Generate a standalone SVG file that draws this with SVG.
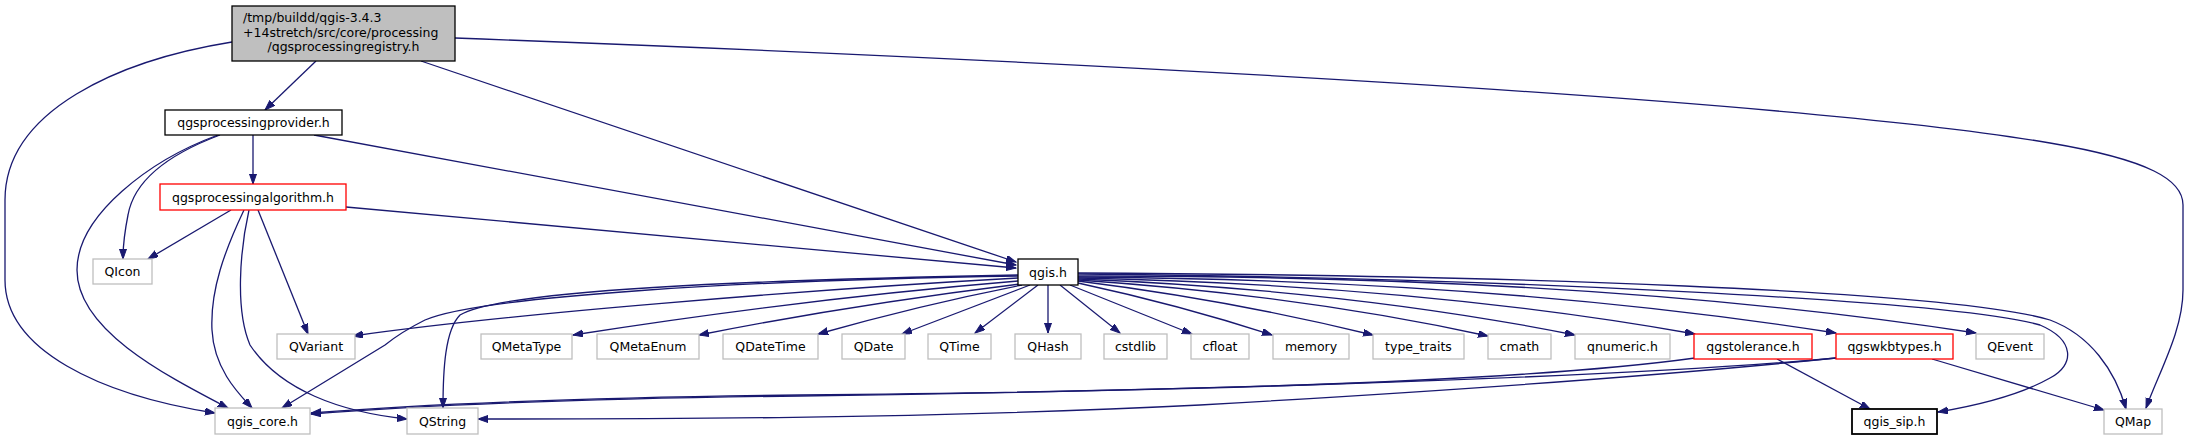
<svg xmlns="http://www.w3.org/2000/svg" width="2189" height="440" viewBox="0 0 2189 440">
<style>
text{font-family:"DejaVu Sans","Liberation Sans",sans-serif;font-size:12.5px;fill:#000;text-anchor:middle}
.n rect{fill:#fff;stroke-width:1.3}
.blk rect{stroke:#000}
.red rect{stroke:#ff0000}
.gry rect{stroke:#bfbfbf}
#edges path{fill:none;stroke:#191970;stroke-width:1.3;marker-end:url(#ah)}
</style>
<defs>
<marker id="ah" markerUnits="userSpaceOnUse" markerWidth="11" markerHeight="8" refX="10" refY="3.5" orient="auto">
<path d="M0,0 L10,3.5 L0,7 z" fill="#191970" stroke="#191970" stroke-width="1"/>
</marker>
</defs>
<rect width="2189" height="440" fill="#fff"/>
<g id="edges">
<path d="M316,61 L265,110"/>
<path d="M232,42 C120,60 5,110 5,200 L5,280 C5,350 100,395 215,413"/>
<path d="M421,61 L1016,262"/>
<path d="M455,38 C1100,62 1800,100 2050,143 C2150,160 2183,180 2183,205 L2183,290 C2183,330 2160,370 2146,408"/>
<path d="M253,135 L253,184"/>
<path d="M314,135 L1016,265"/>
<path d="M220,135 C180,150 135,175 128,215 C124,235 123,248 123,259"/>
<path d="M218,135 C150,160 77,215 77,270 C77,330 165,375 228,408"/>
<path d="M231,210 L148,259"/>
<path d="M244,210 C225,250 210,290 212,330 C214,370 240,395 252,408"/>
<path d="M249,210 C240,250 235,310 250,345 C280,390 340,412 407,419"/>
<path d="M258,210 L308,334"/>
<path d="M346,207 L1016,268"/>
<path d="M1018,278 C800,290 500,315 353,336"/>
<path d="M1018,281 C850,295 700,315 573,335"/>
<path d="M1020,284 Q850,305 699,335"/>
<path d="M1022,285 Q920,305 818,334"/>
<path d="M1030,285 L902,334"/>
<path d="M1038,285 L975,333"/>
<path d="M1048,285 L1048,333"/>
<path d="M1060,285 L1120,333"/>
<path d="M1070,285 L1192,334"/>
<path d="M1078,283 Q1180,305 1272,335"/>
<path d="M1078,281 Q1230,300 1373,335"/>
<path d="M1078,280 Q1300,295 1488,336"/>
<path d="M1078,279 Q1350,290 1575,335"/>
<path d="M1078,278 Q1420,285 1695,334"/>
<path d="M1078,277 Q1500,280 1836,333"/>
<path d="M1078,276 Q1600,275 1976,333"/>
<path d="M1078,273 C1500,275 1950,290 2050,320 C2090,335 2115,370 2126,409"/>
<path d="M1078,274 C1500,278 1950,300 2040,325 C2075,340 2075,365 2050,378 C2020,395 1980,405 1938,412"/>
<path d="M1018,276 C750,280 480,296 425,320 C405,330 395,337 385,345 L282,408"/>
<path d="M1018,275 C750,280 500,290 460,315 C445,330 443,370 443,408"/>
<path d="M1695,358 C1500,385 1100,392 800,395 C550,398 400,406 311,413"/>
<path d="M1777,359 L1870,409"/>
<path d="M1836,358 C1600,380 1100,392 800,396 C550,399 400,407 311,414"/>
<path d="M1836,358 C1700,372 1500,388 1200,405 C900,420 600,419 478,419"/>
<path d="M1932,359 L2104,410"/>
</g>
<g id="root" class="n blk"><rect x="232" y="6" width="223" height="55" style="fill:#bfbfbf"/>
<text x="243" y="22" style="text-anchor:start">/tmp/buildd/qgis-3.4.3</text>
<text x="243" y="36.5" style="text-anchor:start">+14stretch/src/core/processing</text>
<text x="343.5" y="51">/qgsprocessingregistry.h</text></g>
<g id="provider" class="n blk"><rect x="165" y="110" width="177" height="25"/><text x="253.5" y="127">qgsprocessingprovider.h</text></g>
<g id="algorithm" class="n red"><rect x="160" y="184" width="186" height="26"/><text x="253" y="201.5">qgsprocessingalgorithm.h</text></g>
<g id="qicon" class="n gry"><rect x="93" y="259" width="59" height="25"/><text x="122.5" y="276">QIcon</text></g>
<g id="qgis" class="n blk"><rect x="1018" y="259" width="60" height="26"/><text x="1048" y="276.5">qgis.h</text></g>
<g id="qvariant" class="n gry"><rect x="277" y="334" width="78" height="25"/><text x="316" y="351">QVariant</text></g>
<g id="qmetatype" class="n gry"><rect x="481" y="334" width="91" height="25"/><text x="526.5" y="351">QMetaType</text></g>
<g id="qmetaenum" class="n gry"><rect x="597" y="334" width="102" height="25"/><text x="648" y="351">QMetaEnum</text></g>
<g id="qdatetime" class="n gry"><rect x="723" y="334" width="95" height="25"/><text x="770.5" y="351">QDateTime</text></g>
<g id="qdate" class="n gry"><rect x="842" y="334" width="63" height="25"/><text x="873.5" y="351">QDate</text></g>
<g id="qtime" class="n gry"><rect x="928" y="334" width="63" height="25"/><text x="959.5" y="351">QTime</text></g>
<g id="qhash" class="n gry"><rect x="1015" y="334" width="66" height="25"/><text x="1048" y="351">QHash</text></g>
<g id="cstdlib" class="n gry"><rect x="1104" y="334" width="63" height="25"/><text x="1135.5" y="351">cstdlib</text></g>
<g id="cfloat" class="n gry"><rect x="1191" y="334" width="58" height="25"/><text x="1220" y="351">cfloat</text></g>
<g id="memory" class="n gry"><rect x="1273" y="334" width="76" height="25"/><text x="1311" y="351">memory</text></g>
<g id="type_traits" class="n gry"><rect x="1373" y="334" width="91" height="25"/><text x="1418.5" y="351">type_traits</text></g>
<g id="cmath" class="n gry"><rect x="1488" y="334" width="63" height="25"/><text x="1519.5" y="351">cmath</text></g>
<g id="qnumeric" class="n gry"><rect x="1575" y="334" width="95" height="25"/><text x="1622.5" y="351">qnumeric.h</text></g>
<g id="qgstolerance" class="n red"><rect x="1694" y="334" width="118" height="25"/><text x="1753" y="351">qgstolerance.h</text></g>
<g id="qgswkbtypes" class="n red"><rect x="1836" y="334" width="117" height="25"/><text x="1894.5" y="351">qgswkbtypes.h</text></g>
<g id="qevent" class="n gry"><rect x="1976" y="334" width="68" height="25"/><text x="2010" y="351">QEvent</text></g>
<g id="qgis_core" class="n gry"><rect x="215" y="408" width="95" height="26"/><text x="262.5" y="425.5">qgis_core.h</text></g>
<g id="qstring" class="n gry"><rect x="407" y="408" width="71" height="26"/><text x="442.5" y="425.5">QString</text></g>
<g id="qgis_sip" class="n blk"><rect x="1852" y="409" width="85" height="25" style="stroke-width:1.8"/><text x="1894.5" y="426">qgis_sip.h</text></g>
<g id="qmap" class="n gry"><rect x="2104" y="409" width="58" height="25"/><text x="2133" y="426">QMap</text></g>
</svg>
